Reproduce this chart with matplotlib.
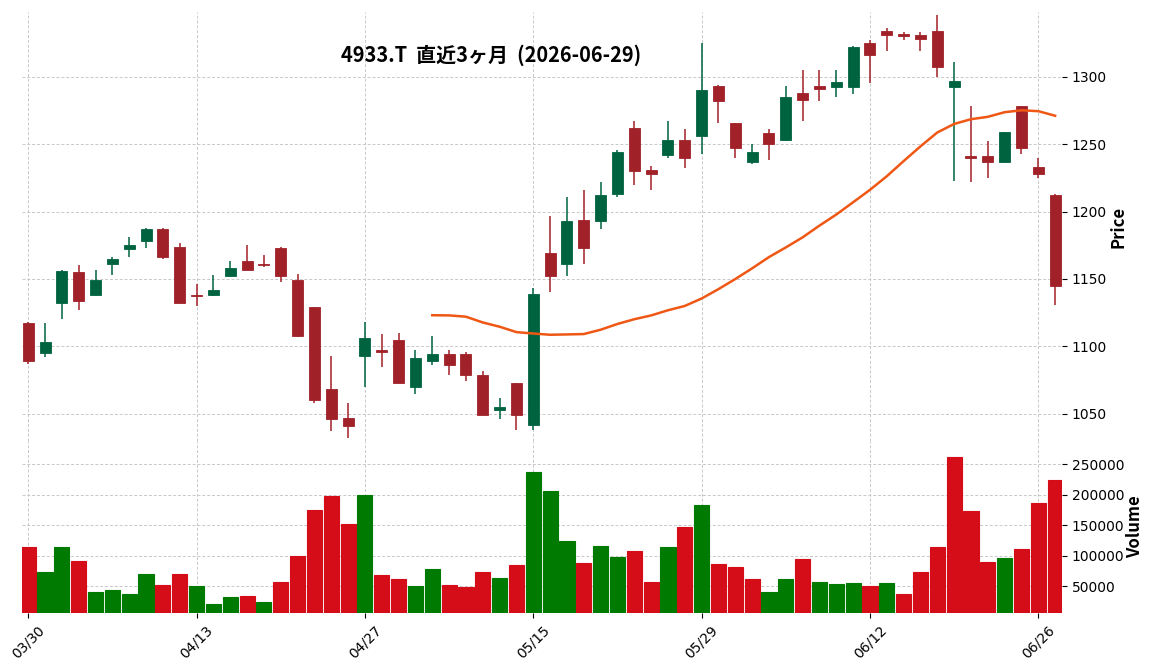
import matplotlib
matplotlib.use("Agg")
import matplotlib.pyplot as plt
import numpy as np
import pandas as pd
from matplotlib.ticker import FixedLocator, FuncFormatter

# ---- data ----
dates = ["03/30", "03/31", "04/01", "04/02", "04/03", "04/06", "04/07", "04/08", "04/09", "04/10",
         "04/13", "04/14", "04/15", "04/16", "04/17", "04/20", "04/21", "04/22", "04/23", "04/24",
         "04/27", "04/28", "04/30", "05/01", "05/07", "05/08", "05/11", "05/12", "05/13", "05/14",
         "05/15", "05/18", "05/19", "05/20", "05/21", "05/22", "05/25", "05/26", "05/27", "05/28",
         "05/29", "06/01", "06/02", "06/03", "06/04", "06/05", "06/08", "06/09", "06/10", "06/11",
         "06/12", "06/15", "06/16", "06/17", "06/18", "06/19", "06/22", "06/23", "06/24", "06/25",
         "06/26", "06/29"]

opens = [1117, 1095, 1132, 1155, 1138, 1161, 1172, 1178, 1187, 1174,
         1138, 1138, 1152, 1163, 1161, 1173, 1149, 1129, 1068, 1047,
         1093, 1097, 1105, 1070, 1089, 1094, 1094, 1079, 1053, 1073,
         1042, 1169, 1161, 1194, 1193, 1213, 1262, 1231, 1242, 1253,
         1256, 1293, 1266, 1237, 1258, 1253, 1288, 1293, 1292, 1292,
         1325, 1334, 1332, 1331, 1334, 1292, 1241, 1241, 1237, 1278,
         1233, 1212]
highs = [1118, 1117, 1157, 1160, 1157, 1166, 1181, 1188, 1188, 1177,
         1146, 1153, 1163, 1175, 1168, 1174, 1154, 1129, 1093, 1058,
         1118, 1109, 1110, 1097, 1108, 1097, 1096, 1082, 1062, 1073,
         1143, 1197, 1211, 1216, 1222, 1246, 1267, 1234, 1267, 1261,
         1325, 1294, 1266, 1250, 1261, 1293, 1305, 1305, 1305, 1323,
         1327, 1336, 1333, 1333, 1346, 1311, 1278, 1252, 1259, 1278,
         1240, 1213]
lows = [1087, 1092, 1120, 1127, 1138, 1153, 1166, 1173, 1165, 1132,
        1130, 1137, 1152, 1157, 1159, 1148, 1107, 1058, 1037, 1032,
        1070, 1085, 1073, 1065, 1086, 1079, 1074, 1049, 1046, 1038,
        1038, 1140, 1152, 1161, 1187, 1211, 1220, 1216, 1240, 1232,
        1243, 1266, 1240, 1235, 1238, 1252, 1267, 1282, 1285, 1287,
        1295, 1319, 1327, 1319, 1300, 1223, 1222, 1225, 1237, 1243,
        1225, 1131]
closes = [1089, 1103, 1156, 1134, 1149, 1165, 1175, 1187, 1166, 1132,
          1137, 1142, 1158, 1157, 1160, 1152, 1108, 1060, 1046, 1041,
          1106, 1096, 1073, 1091, 1094, 1086, 1079, 1049, 1055, 1049,
          1139, 1152, 1193, 1173, 1212, 1244, 1230, 1228, 1253, 1240,
          1290, 1282, 1247, 1244, 1250, 1285, 1283, 1291, 1296, 1322,
          1316, 1331, 1330, 1328, 1307, 1297, 1240, 1237, 1259, 1247,
          1228, 1145]
volumes = [113600, 72800, 113600, 90800, 40200, 43500, 37000, 69600, 51600, 69600,
           50000, 20700, 32100, 33700, 23900, 56500, 98900, 175500, 198400, 152700,
           200000, 68000, 61400, 50000, 77700, 51600, 48400, 72800, 63000, 84200,
           237500, 206500, 125000, 87500, 116800, 97300, 107100, 56500, 115200, 147800,
           183700, 85900, 81000, 61400, 40200, 61400, 94000, 56500, 53300, 54900,
           50000, 54900, 37000, 72800, 113600, 262000, 173900, 89100, 95700, 110300,
           187000, 224500]

price_ticks = [1050, 1100, 1150, 1200, 1250, 1300]
volume_ticks = [50000, 100000, 150000, 200000, 250000]
mav_period = 25
title = "4933.T  直近3ヶ月  (2026-06-29)"

# ---- style ----
UP, DOWN = "#006340", "#a02128"
VUP, VDOWN = "#007a00", "#d50d18"
MAV_COLOR = "#ef5714"
GRID = "#c8c8c8"

o = np.array(opens, float); h = np.array(highs, float)
l = np.array(lows, float); c = np.array(closes, float)
v = np.array(volumes, float)
x = np.arange(len(dates))

fig = plt.figure(figsize=(11.52, 6.70), dpi=100)
ax1 = fig.add_axes([0.0191, 0.3418, 0.9028, 0.6403])
ax2 = fig.add_axes([0.0191, 0.0851, 0.9028, 0.2567], sharex=ax1)

up = c > o
ccol = np.where(up, UP, DOWN)
# wicks
ax1.vlines(x, l, h, colors=ccol, linewidth=1.1, zorder=2)
# bodies
bottoms = np.minimum(o, c)
heights = np.maximum(np.abs(c - o), 0.6)
ax1.bar(x, heights, bottom=bottoms, width=0.65, color=ccol, edgecolor=ccol,
        linewidth=0.6, zorder=3)

# moving average
mav = pd.Series(c).rolling(mav_period).mean()
ax1.plot(x, mav, color=MAV_COLOR, linewidth=1.8, zorder=4)

# volume colours (close vs previous close)
vup = np.empty(len(c), bool)
vup[0] = c[0] > o[0]
vup[1:] = c[1:] > c[:-1]
vcol = np.where(vup, VUP, VDOWN)
ax2.bar(x, v, width=0.9, color=vcol, edgecolor=vcol, linewidth=0.8, zorder=3)

# axes cosmetics
for ax in (ax1, ax2):
    for s in ax.spines.values():
        s.set_visible(False)
    ax.grid(True, linestyle=(0, (3, 2)), color=GRID, linewidth=0.7, zorder=0)
    ax.set_axisbelow(True)
    ax.yaxis.tick_right()
    ax.yaxis.set_label_position("right")
    ax.tick_params(axis="y", which="both", left=False, right=True, length=3.5,
                   labelsize=10, colors="black")

ax1.set_xlim(-0.37, len(dates) - 1 + 0.41)
ax1.set_ylim(1029.8, 1348)
ax1.yaxis.set_major_locator(FixedLocator(price_ticks))
ax1.tick_params(axis="x", bottom=False, labelbottom=False)

ax2.set_ylim(0.3 * v.min(), 1.1 * v.max())
ax2.yaxis.set_major_locator(FixedLocator(volume_ticks))
ax2.yaxis.set_major_formatter(FuncFormatter(lambda val, pos: f"{int(val)}"))
tick_idx = list(range(0, len(dates), 10))
ax2.set_xticks(tick_idx)
ax2.set_xticklabels([dates[i] for i in tick_idx], rotation=45, ha="center",
                    fontsize=10)
ax2.tick_params(axis="x", length=3.5)

lab_font = ["Noto Sans CJK JP", "DejaVu Sans"]
ax1.set_ylabel("Price", fontsize=12, fontweight="bold", family=lab_font, labelpad=1.5)
ax2.set_ylabel("Volume", fontsize=12, fontweight="bold", family=lab_font, labelpad=1.5)

fig.text(491 / 1152, 1 - 55 / 670, title, ha="center", va="center",
         fontsize=14.4, fontweight="bold", family=lab_font)

fig.savefig("out.png", dpi=100)
